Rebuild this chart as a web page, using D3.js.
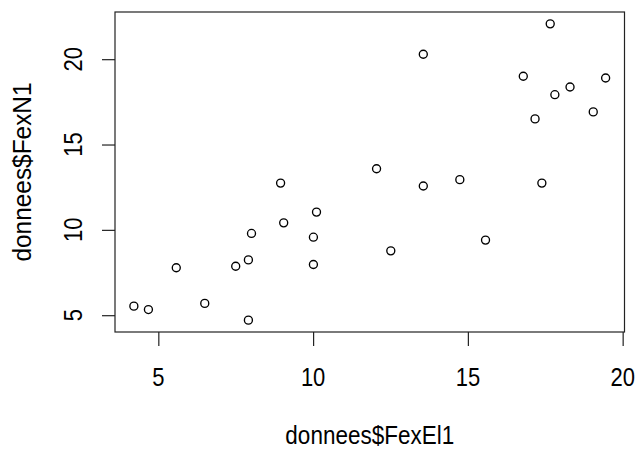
<!DOCTYPE html>
<html>
<head>
<meta charset="utf-8">
<script src="https://cdn.jsdelivr.net/npm/d3@7"></script>
<style>
  body { margin: 0; background: #fff; }
  text { font-family: "Liberation Sans", Arial, sans-serif; fill: #000; }
</style>
</head>
<body>
<svg id="chart" width="638" height="450"></svg>
<script>
// values
var fexEl1 = [17.66, 13.56, 16.79, 19.45, 18.30, 17.81, 19.05, 17.17, 12.05, 13.56,
  14.74, 17.39, 12.51, 15.57, 8.95, 10.11, 9.05, 8.01, 10.01, 5.58,
  7.50, 7.91, 10.01, 4.21, 4.68, 6.50, 7.91];
var fexN1 = [22.07, 20.29, 19.00, 18.90, 18.37, 17.92, 16.91, 16.50, 13.58, 12.57,
  12.94, 12.74, 8.77, 9.40, 12.74, 11.04, 10.41, 9.79, 9.57, 7.78,
  7.87, 8.24, 7.97, 5.53, 5.33, 5.69, 4.71];
var xTicks = [5, 10, 15, 20];
var yTicks = [5, 10, 15, 20];
var xLabel = "donnees$FexEl1";
var yLabel = "donnees$FexN1";

// plot box
var box = { left: 115, right: 624.5, top: 12, bottom: 332 };
var stretch = 1.15;

var svg = d3.select("#chart");

// R style range: extend data range by 4% each side
function padded(vals) {
  var e = d3.extent(vals), p = (e[1] - e[0]) * 0.04;
  return [e[0] - p, e[1] + p];
}

var x = d3.scaleLinear().domain(padded(fexEl1)).range([box.left, box.right]);
var y = d3.scaleLinear().domain(padded(fexN1)).range([box.bottom, box.top]);

var points = fexEl1.map(function (d, i) { return { x: d, y: fexN1[i] }; });

// axes
var xAxis = svg.append("g")
  .attr("transform", "translate(0," + box.bottom + ")")
  .call(d3.axisBottom(x).tickValues(xTicks).tickSize(14).tickSizeOuter(0).tickFormat(""));
var yAxis = svg.append("g")
  .attr("transform", "translate(" + box.left + ",0)")
  .call(d3.axisLeft(y).tickValues(yTicks).tickSize(13).tickSizeOuter(0).tickFormat(""));
xAxis.select(".domain").remove();
yAxis.select(".domain").remove();
svg.selectAll(".tick line").attr("stroke", "#222").attr("stroke-width", 1.2);

// tick labels
svg.selectAll(".xlab")
  .data(xTicks)
  .enter().append("text")
  .attr("text-anchor", "middle")
  .attr("font-size", 22)
  .attr("transform", function (d) { return "translate(" + x(d) + ",386) scale(1," + stretch + ")"; })
  .text(function (d) { return d; });

svg.selectAll(".ylab")
  .data(yTicks)
  .enter().append("text")
  .attr("text-anchor", "middle")
  .attr("font-size", 22)
  .attr("transform", function (d) { return "translate(81.5," + y(d) + ") rotate(-90) scale(1," + stretch + ")"; })
  .text(function (d) { return d; });

// axis titles
svg.append("text")
  .attr("text-anchor", "middle")
  .attr("font-size", 22.5)
  .attr("transform", "translate(" + ((box.left + box.right) / 2) + ",444) scale(1," + stretch + ")")
  .text(xLabel);

svg.append("text")
  .attr("text-anchor", "middle")
  .attr("font-size", 22)
  .attr("transform", "translate(30.5," + ((box.top + box.bottom) / 2) + ") rotate(-90) scale(1.11," + stretch + ")")
  .text(yLabel);

// box
svg.append("rect")
  .attr("x", box.left).attr("y", box.top)
  .attr("width", box.right - box.left).attr("height", box.bottom - box.top)
  .attr("fill", "none").attr("stroke", "#222").attr("stroke-width", 1.2);

// points
svg.selectAll(".pt")
  .data(points)
  .enter().append("circle")
  .attr("cx", function (d) { return x(d.x); })
  .attr("cy", function (d) { return y(d.y); })
  .attr("r", 4)
  .attr("fill", "none")
  .attr("stroke", "#000")
  .attr("stroke-width", 1.35);
</script>
</body>
</html>
